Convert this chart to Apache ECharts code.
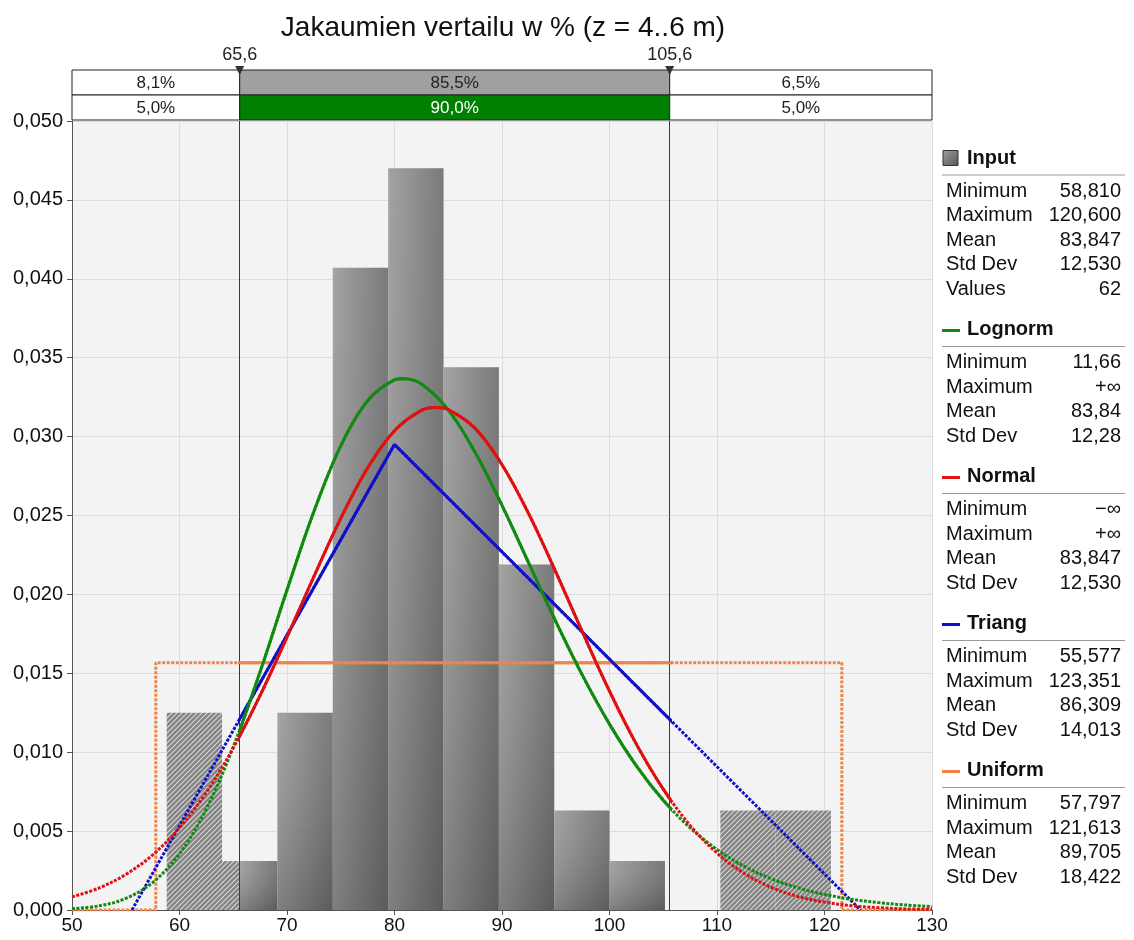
<!DOCTYPE html>
<html>
<head>
<meta charset="utf-8">
<script src="https://cdn.jsdelivr.net/npm/echarts@6/dist/echarts.min.js"></script>
<style>
html,body{margin:0;padding:0;background:#fff;}
#chart{width:1134px;height:940px;}
</style>
</head>
<body>
<div id="chart"></div>
<script>
// ---------------- DATA ----------------
var titleText = 'Jakaumien vertailu w % (z = 4..6 m)';
var xTicks = [50, 60, 70, 80, 90, 100, 110, 120, 130];
var yMax = 0.05;

// histogram (Input) – bin edges and density heights
var binEdges = [58.81, 63.96, 69.11, 74.26, 79.41, 84.56, 89.71, 94.86, 100.0, 105.16, 110.31, 115.45, 120.6];
var binDensity = [0.0125, 0.0031, 0.0125, 0.0407, 0.0470, 0.0344, 0.0219, 0.0063, 0.0031, 0, 0.0063, 0.0063];

// fitted curves
var normalX = [50, 52.5, 55, 57.5, 60, 62.5, 65, 67.5, 70, 72.5, 75, 77.5, 80, 82.5, 83.85, 85, 87.5, 90,
               92.5, 95, 97.5, 100, 102.5, 105, 107.5, 110, 112.5, 115, 117.5, 120, 122.5, 125, 127.5, 130];
var normalY = [0.00083, 0.00139, 0.00225, 0.00349, 0.00521, 0.00746, 0.01027, 0.01360, 0.01729, 0.02113, 0.02482,
               0.02801, 0.03037, 0.03166, 0.03184, 0.03171, 0.03052, 0.02822, 0.02509, 0.02143, 0.01759, 0.01387, 0.01051,
               0.00766, 0.00536, 0.00361, 0.00233, 0.00145, 0.00086, 0.00050, 0.00027, 0.00015, 0.00007, 0.00004];
var lognormX = [50, 52.5, 55, 57.5, 60, 62.5, 65, 67.5, 70, 72.5, 75, 77.5, 80, 80.8, 82.5, 85, 87.5, 90,
                92.5, 95, 97.5, 100, 102.5, 105, 107.5, 110, 112.5, 115, 117.5, 120, 122.5, 125, 127.5, 130];
var lognormY = [0.00008, 0.00026, 0.00073, 0.00174, 0.00356, 0.00641, 0.01033, 0.01510, 0.02028, 0.02525, 0.02941,
                0.03227, 0.03359, 0.03367, 0.03333, 0.03169, 0.02900, 0.02564, 0.02197, 0.01829, 0.01485, 0.01178, 0.00914,
                0.00696, 0.00521, 0.00384, 0.00278, 0.00199, 0.00141, 0.00099, 0.00068, 0.00047, 0.00032, 0.00021];
var triangX = [55.577, 80.0, 123.351];
var triangY = [0, 0.0295, 0];
var uniformX = [50, 57.797, 57.797, 121.613, 121.613, 130];
var uniformY = [0, 0, 0.01567, 0.01567, 0, 0];

// delimiters and band percentages
var thresholds = [65.6, 105.6];
var bandEdges = [50, 65.6, 105.6, 130];
var bandRow1 = ['8,1%', '85,5%', '6,5%'];
var bandRow2 = ['5,0%', '90,0%', '5,0%'];

// stats panel
var statLabels5 = ['Minimum', 'Maximum', 'Mean', 'Std Dev', 'Values'];
var statLabels4 = ['Minimum', 'Maximum', 'Mean', 'Std Dev'];
var inputStats = ['58,810', '120,600', '83,847', '12,530', '62'];
var lognormStats = ['11,66', '+\u221e', '83,84', '12,28'];
var normalStats = ['\u2212\u221e', '+\u221e', '83,847', '12,530'];
var triangStats = ['55,577', '123,351', '86,309', '14,013'];
var uniformStats = ['57,797', '121,613', '89,705', '18,422'];

// ---------------- STYLE / LAYOUT ----------------
var FONT = 'Liberation Sans, Arial, sans-serif';
var C_RED = '#e01010', C_GREEN = '#108a10', C_BLUE = '#1010c8', C_ORANGE = '#f08448';
var plotL = 72, plotT = 121, plotW = 860, plotH = 789;
var xMin = 50, xMax = 130;
var innerL = plotL + (thresholds[0] - xMin) / (xMax - xMin) * plotW;
var innerW = (thresholds[1] - thresholds[0]) / (xMax - xMin) * plotW;

function zip(xs, ys) { return xs.map(function (x, i) { return [x, ys[i]]; }); }
var binData = binDensity.map(function (h, i) { return [binEdges[i], binEdges[i + 1], h]; });
var bandData = [];
for (var i = 0; i < 3; i++) {
  bandData.push([bandEdges[i], bandEdges[i + 1], 0, i === 1 ? 1 : 0]);
  bandData.push([bandEdges[i], bandEdges[i + 1], 1, i === 1 ? 2 : 0]);
}
var bandTexts = [];
for (var j = 0; j < 3; j++) { bandTexts.push(bandRow1[j]); bandTexts.push(bandRow2[j]); }

// hatch pattern
var hc = document.createElement('canvas');
hc.width = 5; hc.height = 5;
var hx = hc.getContext('2d');
hx.fillStyle = '#7a7a7a'; hx.fillRect(0, 0, 5, 5);
hx.strokeStyle = 'rgba(255,255,255,0.7)'; hx.lineWidth = 1.1;
hx.beginPath();
hx.moveTo(-1, 6); hx.lineTo(6, -1);
hx.moveTo(-3.5, 3.5); hx.lineTo(3.5, -3.5);
hx.moveTo(1.5, 8.5); hx.lineTo(8.5, 1.5);
hx.stroke();

function barRect(api) {
  var p0 = api.coord([api.value(0), api.value(2)]);
  var p1 = api.coord([api.value(1), 0]);
  return { x: p0[0], y: p0[1], width: p1[0] - p0[0], height: p1[1] - p0[1] };
}

function renderHatch(params, api) {
  var r = barRect(api);
  if (r.height <= 0) return;
  var cs = params.coordSys;
  var tl = api.coord([thresholds[0], 0])[0];
  var tr = api.coord([thresholds[1], 0])[0];
  var regions = [{ x: cs.x, y: cs.y, width: tl - cs.x, height: cs.height },
                 { x: tr, y: cs.y, width: cs.x + cs.width - tr, height: cs.height }];
  var children = [];
  regions.forEach(function (reg) {
    var c = echarts.graphic.clipRectByRect(r, reg);
    if (c && c.width > 0) {
      children.push({ type: 'rect', shape: c, style: { fill: { image: hc, repeat: 'repeat' }, opacity: 0.92 } });
    }
  });
  return { type: 'group', children: children };
}

function renderSolid(params, api) {
  var r = barRect(api);
  if (r.height <= 0) return;
  var cs = params.coordSys;
  var c = echarts.graphic.clipRectByRect(r, { x: cs.x, y: cs.y, width: cs.width, height: cs.height });
  if (!c) return;
  return {
    type: 'group', children: [
      { type: 'rect', shape: c, style: { fill: new echarts.graphic.LinearGradient(0, 0, 1, 0, [
          { offset: 0, color: '#929292' }, { offset: 1, color: '#606060' }]), opacity: 0.9 } },
      { type: 'rect', shape: c, style: { fill: new echarts.graphic.LinearGradient(0, 0, 0, 1, [
          { offset: 0, color: 'rgba(255,255,255,0.08)' }, { offset: 1, color: 'rgba(0,0,0,0.18)' }]) } }
    ]
  };
}

function renderBand(params, api) {
  var idx = params.dataIndex;
  var row = api.value(2), kind = api.value(3);
  var p0 = api.coord([api.value(0), row]);
  var p1 = api.coord([api.value(1), row + 1]);
  var fill = kind === 1 ? '#a0a0a0' : (kind === 2 ? '#008000' : '#ffffff');
  return {
    type: 'group', children: [
      { type: 'rect', shape: { x: p0[0], y: p0[1], width: p1[0] - p0[0], height: p1[1] - p0[1] },
        style: { fill: fill, stroke: '#222', lineWidth: 1 } },
      { type: 'text', x: (p0[0] + p1[0]) / 2, y: (p0[1] + p1[1]) / 2 + 1,
        style: { text: bandTexts[idx], fill: kind === 2 ? '#ffffff' : '#222', font: '17px ' + FONT,
                 align: 'center', verticalAlign: 'middle' } }
    ]
  };
}

function renderMarker(params, api) {
  var t = api.value(0);
  var p = api.coord([t, 0]);
  return {
    type: 'group', children: [
      { type: 'polygon', shape: { points: [[p[0] - 4.5, p[1] - 4], [p[0] + 4.5, p[1] - 4], [p[0], p[1] + 5]] },
        style: { fill: '#333' } },
      { type: 'text', x: p[0], y: p[1] - 15,
        style: { text: String(t).replace('.', ','), fill: '#222', font: '18px ' + FONT,
                 align: 'center', verticalAlign: 'middle' } }
    ]
  };
}

function outsideLine(name, data, color, smooth, extra) {
  var s = { name: name, type: 'line', xAxisIndex: 0, yAxisIndex: 0, data: data, smooth: smooth,
    showSymbol: false, symbol: 'none', z: 4, silent: true,
    lineStyle: { color: color, width: 3, type: [3, 1.5] } };
  if (extra) for (var k in extra) s[k] = extra[k];
  return s;
}
function insideLine(name, data, color, smooth) {
  return { name: name, type: 'line', xAxisIndex: 1, yAxisIndex: 1, data: data, smooth: smooth,
    showSymbol: false, symbol: 'none', z: 5, silent: true, clip: true,
    lineStyle: { color: color, width: 3 } };
}

// ---------------- PANEL (graphic) ----------------
var graphics = [];
graphics.push({ type: 'text', x: 503, y: 28, style: { text: titleText, font: '28px ' + FONT, fill: '#111', align: 'center', verticalAlign: 'middle' } });

var sections = [
  { name: 'Input', icon: 'box', color: '#777', labels: statLabels5, values: inputStats },
  { name: 'Lognorm', icon: 'line', color: C_GREEN, labels: statLabels4, values: lognormStats },
  { name: 'Normal', icon: 'line', color: C_RED, labels: statLabels4, values: normalStats },
  { name: 'Triang', icon: 'line', color: C_BLUE, labels: statLabels4, values: triangStats },
  { name: 'Uniform', icon: 'line', color: C_ORANGE, labels: statLabels4, values: uniformStats }
];
var hy = 158;
sections.forEach(function (s) {
  if (s.icon === 'box') {
    graphics.push({ type: 'rect', shape: { x: 943, y: hy - 7.5, width: 15, height: 15 },
      style: { fill: new echarts.graphic.LinearGradient(0, 0, 1, 1, [{ offset: 0, color: '#a0a0a0' }, { offset: 1, color: '#555' }]), stroke: '#333', lineWidth: 1 } });
  } else {
    graphics.push({ type: 'line', shape: { x1: 942, y1: hy + 1, x2: 960, y2: hy + 1 }, style: { stroke: s.color, lineWidth: 3 } });
  }
  graphics.push({ type: 'text', x: 967, y: hy, style: { text: s.name, font: 'bold 20px ' + FONT, fill: '#111', verticalAlign: 'middle' } });
  graphics.push({ type: 'line', shape: { x1: 942, y1: hy + 17, x2: 1125, y2: hy + 17 }, style: { stroke: '#999', lineWidth: 1 } });
  s.labels.forEach(function (lab, k) {
    var ry = hy + 33 + k * 24.5;
    graphics.push({ type: 'text', x: 946, y: ry, style: { text: lab, font: '20px ' + FONT, fill: '#111', verticalAlign: 'middle' } });
    graphics.push({ type: 'text', x: 1121, y: ry, style: { text: s.values[k], font: '20px ' + FONT, fill: '#111', align: 'right', verticalAlign: 'middle' } });
  });
  hy = hy + 33 + (s.labels.length - 1) * 24.5 + 40.5;
});

// ---------------- OPTION ----------------
var option = {
  animation: false,
  backgroundColor: '#ffffff',
  textStyle: { fontFamily: FONT },
  graphic: graphics,
  grid: [
    { left: plotL, top: plotT, width: plotW, height: plotH, show: true, backgroundColor: '#f3f3f3', borderWidth: 0, containLabel: false, outerBoundsMode: 'none' },
    { left: innerL, top: plotT, width: innerW, height: plotH, show: false, containLabel: false, outerBoundsMode: 'none' },
    { left: plotL, top: 70, width: plotW, height: 50, show: false, containLabel: false, outerBoundsMode: 'none' }
  ],
  xAxis: [
    { type: 'value', gridIndex: 0, min: xMin, max: xMax, interval: 10,
      axisLine: { show: true, onZero: false, lineStyle: { color: '#555', width: 1 } },
      axisTick: { show: true, length: 5, lineStyle: { color: '#555' } },
      axisLabel: { fontSize: 19, color: '#111', margin: 6, fontFamily: FONT,
        formatter: function (v) { return xTicks.indexOf(v) >= 0 ? String(v) : ''; } },
      splitLine: { show: true, lineStyle: { color: '#dcdcdc', width: 1 } } },
    { type: 'value', gridIndex: 1, min: thresholds[0], max: thresholds[1], show: false },
    { type: 'value', gridIndex: 2, min: xMin, max: xMax, show: false }
  ],
  yAxis: [
    { type: 'value', gridIndex: 0, min: 0, max: yMax, interval: 0.005,
      axisLine: { show: true, lineStyle: { color: '#555', width: 1 } },
      axisTick: { show: true, length: 5, lineStyle: { color: '#555' } },
      axisLabel: { fontSize: 20, color: '#111', margin: 9, fontFamily: FONT,
        formatter: function (v) { return v.toFixed(3).replace('.', ','); } },
      splitLine: { show: true, lineStyle: { color: '#dcdcdc', width: 1 } } },
    { type: 'value', gridIndex: 1, min: 0, max: yMax, show: false },
    { type: 'value', gridIndex: 2, min: 0, max: 2, inverse: true, show: false }
  ],
  series: [
    { name: 'InputHatch', type: 'custom', xAxisIndex: 0, yAxisIndex: 0, data: binData,
      encode: { x: [0, 1], y: 2 }, renderItem: renderHatch, z: 2, silent: true },
    { name: 'InputSolid', type: 'custom', xAxisIndex: 1, yAxisIndex: 1, data: binData,
      encode: { x: [0, 1], y: 2 }, renderItem: renderSolid, z: 2, silent: true },

    outsideLine('Uniform', zip(uniformX, uniformY), C_ORANGE, false, {
      markLine: { silent: true, symbol: ['none', 'none'], label: { show: false },
        lineStyle: { color: '#3a3a3a', width: 1, type: 'solid' },
        data: thresholds.map(function (t) { return { xAxis: t }; }) } }),
    outsideLine('Triang', zip(triangX, triangY), C_BLUE, false),
    outsideLine('Lognorm', zip(lognormX, lognormY), C_GREEN, 0.35),
    outsideLine('Normal', zip(normalX, normalY), C_RED, 0.35),
    insideLine('Uniform', zip(uniformX, uniformY), C_ORANGE, false),
    insideLine('Triang', zip(triangX, triangY), C_BLUE, false),
    insideLine('Lognorm', zip(lognormX, lognormY), C_GREEN, 0.35),
    insideLine('Normal', zip(normalX, normalY), C_RED, 0.35),

    { name: 'Band', type: 'custom', xAxisIndex: 2, yAxisIndex: 2, data: bandData,
      encode: { x: [0, 1], y: 2 }, renderItem: renderBand, z: 6, silent: true },
    { name: 'Markers', type: 'custom', xAxisIndex: 2, yAxisIndex: 2, data: thresholds.map(function (t) { return [t, 0]; }),
      encode: { x: 0, y: 1 }, renderItem: renderMarker, z: 7, silent: true, clip: false }
  ]
};

var chart = echarts.init(document.getElementById('chart'), null, { renderer: 'canvas' });
chart.setOption(option);
</script>
</body>
</html>
